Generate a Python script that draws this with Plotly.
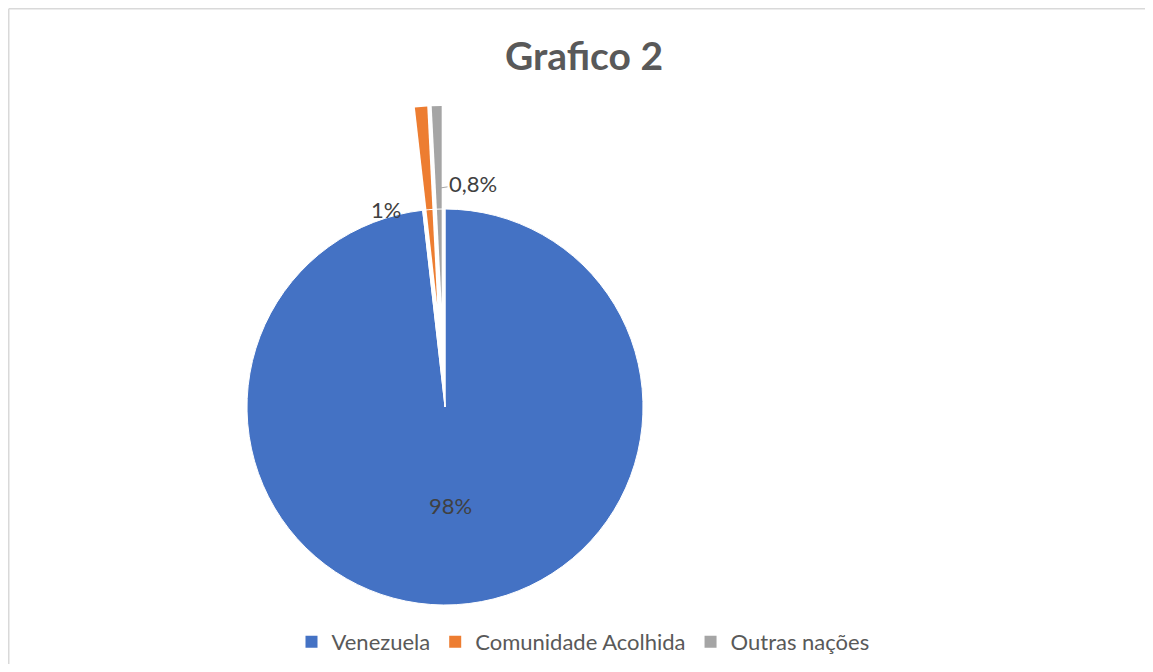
import math
import plotly.graph_objects as go

# ---- data ----
labels = ["Venezuela", "Comunidade Acolhida", "Outras nações"]
values = [98.2, 1.0, 0.8]
label_text = ["98%", "1%", "0,8%"]
colors = ["#4472C4", "#ED7D31", "#A5A5A5"]
title_text = "Grafico 2"

# ---- geometry (pixels, in window coordinates) ----
W, H = 1153, 672
OFF = 8                            # page body margin
FW, FH = W - 2 * OFF, H - 2 * OFF  # figure size that fits the window exactly
CX, CY, R = 445, 407, 198          # main pie centre / radius
PULL = 0.52                        # explode fraction of the two small slices
P2 = 0.40                          # pull handled by plotly on the exploded trace

def px_x(x):
    return (x - OFF) / FW

def px_y(y):
    return 1 - (y - OFF) / FH

def domain(cx, cy, half):
    return dict(x=[px_x(cx - half), px_x(cx + half)],
                y=[px_y(cy + half), px_y(cy - half)])

total = sum(values)
small_frac = (values[1] + values[2]) / total
mid_ang = math.radians(-180 * small_frac)       # bisector of small slices (clockwise from top)
shift = (PULL - P2) * R
cx2 = CX + shift * math.sin(mid_ang)
cy2 = CY - shift * math.cos(mid_ang)

TRANSP = "rgba(0,0,0,0)"
text_font = dict(family="Lato", size=22, color="#404040")

fig = go.Figure()

# legend-only pie (degenerate, hidden under main pie)
fig.add_trace(go.Pie(
    labels=labels, values=values, sort=False, direction="clockwise", rotation=0,
    marker=dict(colors=colors, line=dict(width=0)),
    textinfo="none", hoverinfo="skip", showlegend=True,
    domain=domain(CX, CY, 0.5),
))

# exploded small slices
fig.add_trace(go.Pie(
    labels=labels, values=values, sort=False, direction="clockwise", rotation=0,
    marker=dict(colors=[TRANSP, colors[1], colors[2]], line=dict(width=0)),
    pull=[0, P2, P2],
    textinfo="none", hoverinfo="skip", showlegend=False,
    domain=domain(cx2, cy2, R * (1 + P2)),
))

# main pie
fig.add_trace(go.Pie(
    labels=labels, values=values, sort=False, direction="clockwise", rotation=0,
    marker=dict(colors=[colors[0], TRANSP, TRANSP], line=dict(width=1, color="white")),
    text=[label_text[0], "", ""], textinfo="text", textposition="inside",
    insidetextorientation="horizontal", textfont=text_font,
    hoverinfo="skip", showlegend=False,
    domain=domain(CX, CY, R),
))

annotations = [
    dict(text=label_text[1], x=px_x(386), y=px_y(210), xref="paper", yref="paper",
         showarrow=False, font=text_font, xanchor="center", yanchor="middle"),
    dict(text=label_text[2], x=px_x(440), y=px_y(188), xref="paper", yref="paper",
         showarrow=True, arrowhead=0, arrowwidth=1, arrowcolor="#A6A6A6",
         ax=33, ay=-5, font=text_font, xanchor="center", yanchor="middle"),
]

frame = dict(color="#D9D9D9", width=1.5)
fig.update_layout(
    width=FW, height=FH,
    margin=dict(l=0, r=0, t=0, b=0),
    paper_bgcolor="white",
    title=dict(text=f"<b>{title_text}</b>", x=px_x(584), y=px_y(56),
               xanchor="center", yanchor="middle",
               font=dict(family="Lato", size=39, color="#595959")),
    legend=dict(orientation="h", x=px_x(583), y=px_y(642),
                xanchor="center", yanchor="middle",
                font=dict(family="Lato", size=22, color="#595959"),
                traceorder="normal"),
    annotations=annotations,
    shapes=[
        dict(type="line", xref="paper", yref="paper",
             x0=0.75 / FW, x1=1, y0=1 - 0.75 / FH, y1=1 - 0.75 / FH,
             line=frame, layer="below"),
        dict(type="line", xref="paper", yref="paper",
             x0=0.75 / FW, x1=0.75 / FW, y0=0, y1=1 - 0.75 / FH,
             line=frame, layer="below"),
    ],
)

fig.write_html("out.html")
